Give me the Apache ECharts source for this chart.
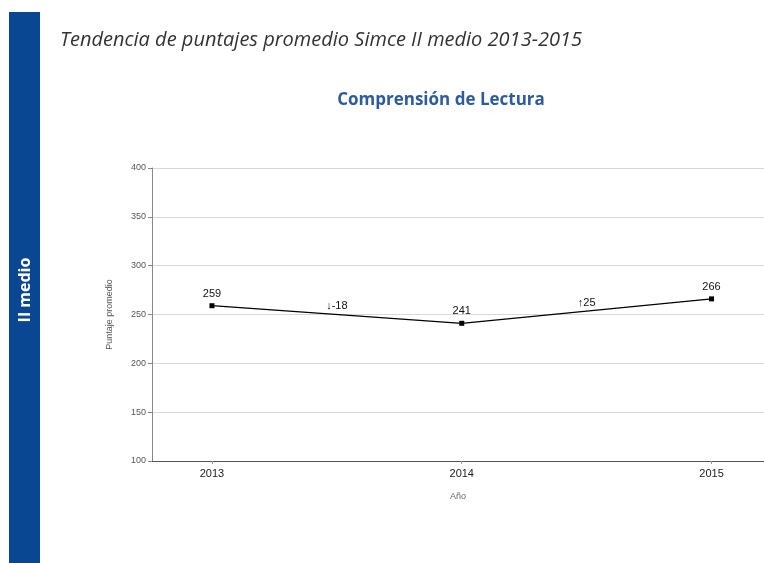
<!DOCTYPE html>
<html>
<head>
<meta charset="utf-8">
<script src="https://cdn.jsdelivr.net/npm/echarts@6/dist/echarts.min.js"></script>
<style>html,body{margin:0;padding:0;background:#fff;}#c{width:764px;height:563px;}</style>
</head>
<body>
<div id="c"></div>
<script>
var years = [2013, 2014, 2015];
var scores = [259, 241, 266];
var diffs = [-18, 25];
var yTicks = [100, 150, 200, 250, 300, 350, 400];

var lineData = years.map(function (y, i) { return [y, scores[i]]; });
var diffData = diffs.map(function (d, i) {
  return { value: [(years[i] + years[i + 1]) / 2, (scores[i] + scores[i + 1]) / 2], diff: d };
});

var chart = echarts.init(document.getElementById('c'), null, { renderer: 'canvas' });
chart.setOption({
  animation: false,
  backgroundColor: '#fff',
  graphic: [
    { type: 'rect', shape: { x: 9, y: 12, width: 31, height: 551 }, style: { fill: '#0a4793' } },
    { type: 'text', x: 25, y: 290, rotation: Math.PI / 2,
      style: { text: 'II medio', fill: '#fff', font: 'bold 16px "Open Sans", sans-serif', align: 'center', verticalAlign: 'middle' } },
    { type: 'text', x: 60, y: 40,
      style: { text: 'Tendencia de puntajes promedio Simce II medio 2013-2015', fill: '#333', font: 'italic 20px "Open Sans", sans-serif', verticalAlign: 'middle' } },
    { type: 'text', x: 441, y: 100,
      style: { text: 'Comprensión de Lectura', fill: '#2d5b9e', font: 'bold 17px "Open Sans", sans-serif', align: 'center', verticalAlign: 'middle' } }
  ],
  grid: { left: 152, right: 0, top: 168, bottom: 102, containLabel: false },
  xAxis: {
    type: 'value', min: 2012.76, max: 2015.21,
    name: 'Año', nameLocation: 'middle', nameGap: 31,
    nameTextStyle: { color: '#666', fontSize: 9, fontFamily: 'Liberation Sans' },
    splitLine: { show: false },
    axisLine: { lineStyle: { color: '#555' } },
    axisTick: { show: true, customValues: years, length: 3, lineStyle: { color: '#999' } },
    axisLabel: { customValues: years, color: '#222', fontSize: 11, fontFamily: 'Liberation Sans', margin: 7, formatter: function (v) { return String(v); } }
  },
  yAxis: {
    type: 'value', min: 100, max: 400, interval: 50,
    name: 'Puntaje promedio', nameLocation: 'middle', nameGap: 38, nameRotate: 90,
    nameTextStyle: { color: '#555', fontSize: 9, fontFamily: 'Liberation Sans' },
    axisLine: { show: true, lineStyle: { color: '#888' } },
    axisTick: { show: true, length: 4, lineStyle: { color: '#888' } },
    axisLabel: { color: '#555', fontSize: 9, fontFamily: 'Liberation Sans', margin: 6 },
    splitLine: { lineStyle: { color: '#d8d8d8' } }
  },
  series: [
    {
      type: 'line', data: lineData, symbol: 'rect', symbolSize: 5,
      itemStyle: { color: '#000' }, lineStyle: { color: '#000', width: 1.2 },
      label: { show: true, position: 'top', distance: 4, color: '#111', fontSize: 11, fontFamily: 'Liberation Sans',
        formatter: function (p) { return p.value[1]; } }
    },
    {
      type: 'scatter', data: diffData, symbolSize: 0, silent: true,
      itemStyle: { opacity: 1, color: '#000' },
      label: { show: true, position: 'top', distance: 3, color: '#111', opacity: 1, fontSize: 11, fontFamily: 'Liberation Sans',
        formatter: function (p) { var d = p.data.diff; return (d < 0 ? '↓' : '↑') + d; } }
    }
  ]
});
</script>
</body>
</html>
